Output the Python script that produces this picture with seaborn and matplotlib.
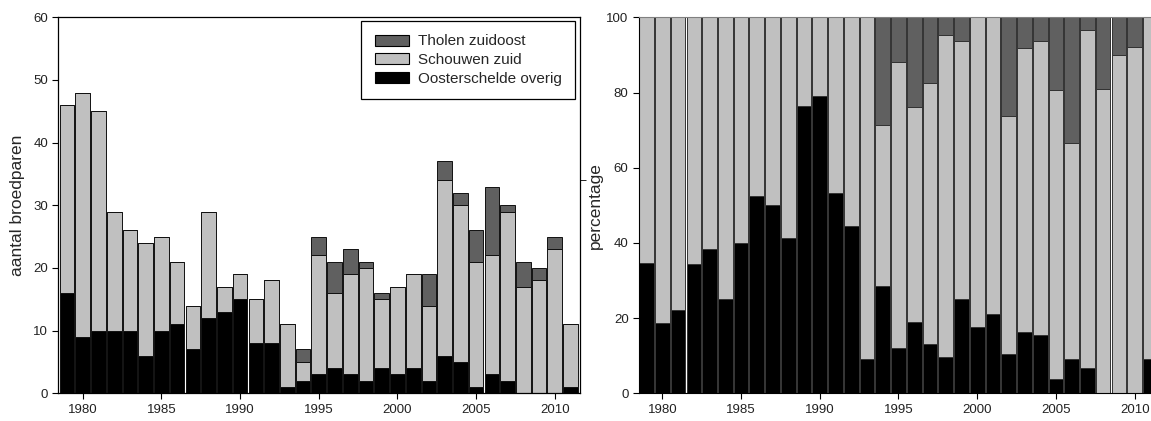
import numpy as np
import pandas as pd
import matplotlib
matplotlib.use("Agg")
import matplotlib.pyplot as plt
from matplotlib.patches import Patch
import seaborn as sns

# data (broedparen per jaar)
years = list(range(1979, 2012))
overig = [16, 9, 10, 10, 10, 6, 10, 11, 7, 12, 13, 15, 8, 8, 1,
          2, 3, 4, 3, 2, 4, 3, 4, 2, 6, 5, 1, 3, 2, 0, 0, 0, 1]
schouwen = [30, 39, 35, 19, 16, 18, 15, 10, 7, 17, 4, 4, 7, 10, 10,
            3, 19, 12, 16, 18, 11, 14, 15, 12, 28, 25, 20, 19, 27, 17, 18, 23, 10]
tholen = [0] * 15 + [2, 3, 5, 4, 1, 1, 0, 0, 5, 3, 2, 5, 11, 1, 4, 2, 2, 0]

regions = ["Tholen zuidoost", "Schouwen zuid", "Oosterschelde overig"]
colors = ["#606060", "#c0c0c0", "#000000"]
xticks = [1980, 1985, 1990, 1995, 2000, 2005, 2010]

wide = pd.DataFrame({"year": years, regions[0]: tholen,
                     regions[1]: schouwen, regions[2]: overig})
df = wide.melt(id_vars="year", var_name="region", value_name="n")
totals = df.groupby("year")["n"].transform("sum")
df["pct"] = df["n"] / totals * 100

sns.set_style("ticks")
plt.rcParams["font.family"] = ["Liberation Sans", "DejaVu Sans"]
plt.rcParams["xtick.major.size"] = 4
plt.rcParams["ytick.major.size"] = 4
plt.rcParams["xtick.color"] = "black"
plt.rcParams["ytick.color"] = "black"
plt.rcParams["xtick.labelcolor"] = "#222222"
plt.rcParams["ytick.labelcolor"] = "#222222"
plt.rcParams["xtick.labelsize"] = 9.5
plt.rcParams["ytick.labelsize"] = 9.5

fig = plt.figure(figsize=(11.51, 4.21), dpi=100)
ax1 = fig.add_axes([0.0507, 0.0658, 0.4532, 0.8931])
ax2 = fig.add_axes([0.5552, 0.0658, 0.4518, 0.8931])

pal = dict(zip(regions, colors))
common = dict(x="year", hue="region", hue_order=regions, palette=pal,
              multiple="stack", discrete=True, shrink=0.93, alpha=1,
              legend=False)

sns.histplot(data=df, weights="n", ax=ax1, edgecolor="#111111",
             linewidth=0.7, **common)
sns.histplot(data=df, weights="pct", ax=ax2, edgecolor="#333333",
             linewidth=0.7, **common)

# left panel
ax1.set_xlim(1978.45, 2011.6)
ax1.set_ylim(0, 60)
ax1.set_yticks(range(0, 61, 10))
ax1.set_xticks(xticks)
ax1.set_xlabel("")
ax1.set_ylabel("aantal broedparen", fontsize=12.5)
ax1.yaxis.set_label_coords(-0.064, 0.5)
for s in ax1.spines.values():
    s.set_color("black")
    s.set_linewidth(0.9)
ax1.set_yticks([34], minor=True)
ax1.tick_params(axis="y", which="minor", left=False, right=True, length=4)

handles = [Patch(facecolor=c, edgecolor="black", linewidth=0.8) for c in colors]
leg = ax1.legend(handles, regions, loc="upper right",
                 bbox_to_anchor=(0.991, 0.991), borderaxespad=0,
                 fancybox=False, framealpha=1, fontsize=11,
                 handlelength=2.2, handleheight=0.75, borderpad=0.9,
                 labelspacing=0.3, handletextpad=0.6)
leg.get_frame().set_edgecolor("black")
leg.get_frame().set_linewidth(0.9)

# right panel
ax2.set_xlim(1978.52, 2011.55)
ax2.set_ylim(0, 100)
ax2.set_yticks(range(0, 101, 20))
ax2.set_xticks(xticks)
ax2.set_xlabel("")
ax2.set_ylabel("percentage", fontsize=12.5)
ax2.yaxis.set_label_coords(-0.07, 0.5)
ax2.spines["left"].set_color("black")
ax2.spines["bottom"].set_color("black")
ax2.spines["top"].set_color("#808080")
ax2.spines["right"].set_visible(False)

fig.savefig("out.png", dpi=100)
